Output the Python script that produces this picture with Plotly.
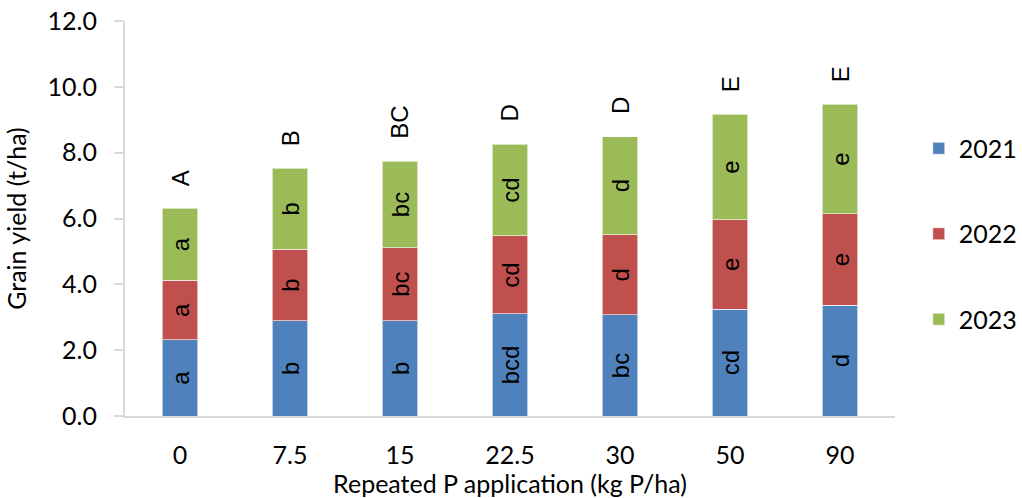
import plotly.graph_objects as go

categories = ["0", "7.5", "15", "22.5", "30", "50", "90"]
y2021 = [2.32, 2.90, 2.90, 3.10, 3.07, 3.25, 3.37]
y2022 = [1.80, 2.16, 2.21, 2.37, 2.44, 2.71, 2.77]
y2023 = [2.19, 2.47, 2.63, 2.79, 2.98, 3.21, 3.33]
lab2021 = ["a", "b", "b", "bcd", "bc", "cd", "d"]
lab2022 = ["a", "b", "bc", "cd", "d", "e", "e"]
lab2023 = ["a", "b", "bc", "cd", "d", "e", "e"]
total_letters = ["A", "B", "BC", "D", "D", "E", "E"]

series = [
    ("2021", y2021, lab2021, "#4F81BD"),
    ("2022", y2022, lab2022, "#C0504D"),
    ("2023", y2023, lab2023, "#9BBB59"),
]

tick_font = dict(family="Lato, Calibri, sans-serif", size=25, color="#000000")
label_font = dict(family="Liberation Sans, Arial, sans-serif", size=24, color="#000000")

fig = go.Figure()
for i, (name, vals, labs, col) in enumerate(series):
    fig.add_trace(go.Bar(
        x=categories, y=vals, name=name, text=labs,
        textposition="inside", insidetextanchor="middle", textangle=-90,
        constraintext="none", textfont=label_font,
        marker=dict(color=col, line=dict(color="rgba(255,255,255,0.6)", width=1)),
        legendgroup=name, hoverinfo="skip",
    ))

totals = [a + b + c for a, b, c in zip(y2021, y2022, y2023)]
for idx, (tot, lt) in enumerate(zip(totals, total_letters)):
    fig.add_annotation(x=idx, y=tot, text=lt, showarrow=False, textangle=-90,
                       yanchor="bottom", xanchor="center", yshift=20,
                       font=label_font)

fig.update_layout(
    width=1022, height=498,
    margin=dict(l=125, r=127, t=21, b=82),
    barmode="stack", bargap=0.68,
    plot_bgcolor="white", paper_bgcolor="white",
    font=tick_font,
    legend=dict(xref="container", x=0.899, xanchor="left",
                yref="container", y=0.748, yanchor="top",
                font=dict(family="Lato, Calibri, sans-serif", size=25),
                traceorder="grouped", tracegroupgap=50),
    xaxis=dict(type="category", range=[-0.5, len(categories) - 0.5],
               showline=True, linecolor="#D9D9D9", linewidth=2, ticks="",
               tickfont=tick_font, ticklabelstandoff=16, automargin=False,
               title=dict(text="Repeated P application (kg P/ha)", font=tick_font, standoff=0)),
    yaxis=dict(range=[0, 12], dtick=2, tickformat=".1f", showgrid=False,
               showline=True, linecolor="#D9D9D9", linewidth=2,
               ticks="outside", ticklen=9, tickcolor="#D9D9D9", tickwidth=2,
               tickfont=tick_font, zeroline=False, ticklabelstandoff=12,
               automargin=False,
               title=dict(text="Grain yield (t/ha)", font=tick_font, standoff=14)),
)

fig.write_html("out.html")
